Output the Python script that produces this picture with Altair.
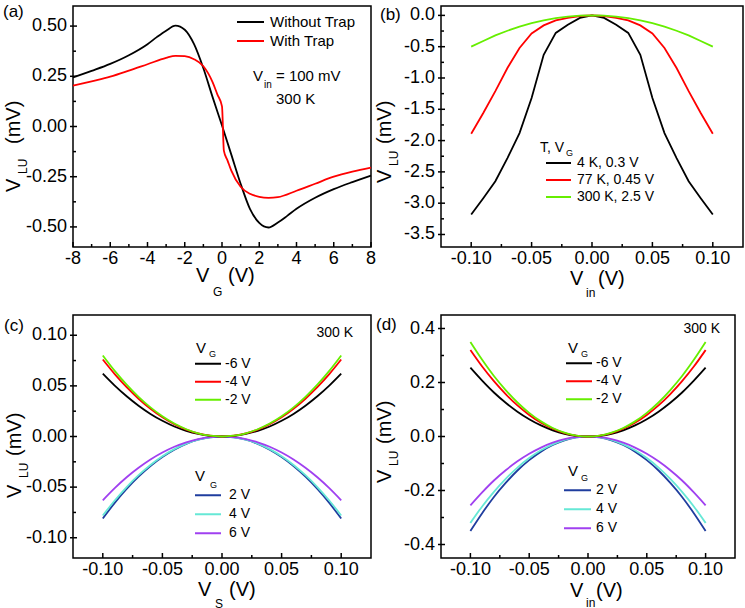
import altair as alt
import pandas as pd

FONT = "Liberation Sans"

# ---------------- data: panel (a) ----------------
a_vg_without = [-8, -7, -6, -5, -4, -3.5, -3, -2.5, -2, -1.5, -1, -0.5, 0, 0.5, 1, 1.5, 2, 2.5, 3, 3.5, 4, 5, 6, 7, 8]
a_without = [0.244, 0.277, 0.312, 0.355, 0.41, 0.445, 0.477, 0.502, 0.482, 0.41, 0.29, 0.145, 0.005, -0.14, -0.285,
             -0.41, -0.48, -0.503, -0.478, -0.445, -0.41, -0.355, -0.312, -0.277, -0.245]
a_vg_with = [-8, -7, -6, -5, -4, -3, -2.5, -2, -1.5, -1, -0.5, -0.25, 0, 0.1, 0.3, 0.5, 1, 1.5, 2, 2.5, 3, 4, 5, 6, 7, 8]
a_with = [0.203, 0.225, 0.248, 0.278, 0.31, 0.342, 0.352, 0.35, 0.335, 0.30, 0.22, 0.16, 0.1, -0.12, -0.17, -0.22,
          -0.30, -0.335, -0.35, -0.355, -0.352, -0.32, -0.285, -0.25, -0.225, -0.205]
a_names = ["Without Trap", "With Trap"]

# ---------------- data: panel (b) ----------------
b_vin = [-0.10, -0.09, -0.08, -0.07, -0.06, -0.05, -0.04, -0.03, -0.02, -0.01, 0.0,
         0.01, 0.02, 0.03, 0.04, 0.05, 0.06, 0.07, 0.08, 0.09, 0.10]
b_4k = [-3.18, -2.92, -2.65, -2.28, -1.88, -1.32, -0.63, -0.28, -0.15, -0.04, 0.0,
        -0.04, -0.15, -0.28, -0.63, -1.32, -1.88, -2.28, -2.65, -2.92, -3.18]
b_77k = [-1.89, -1.56, -1.21, -0.84, -0.52, -0.29, -0.16, -0.08, -0.04, -0.01, 0.0,
         -0.01, -0.04, -0.08, -0.16, -0.29, -0.52, -0.84, -1.21, -1.56, -1.89]
b_300k = [-0.50, -0.41, -0.32, -0.245, -0.18, -0.125, -0.08, -0.045, -0.02, -0.005, 0.0,
          -0.005, -0.02, -0.045, -0.08, -0.125, -0.18, -0.245, -0.32, -0.41, -0.50]
b_names = ["4 K, 0.3 V", "77 K, 0.45 V", "300 K, 2.5 V"]

# ---------------- data: panel (c) ----------------
c_vs = [-0.10, -0.09, -0.08, -0.07, -0.06, -0.05, -0.04, -0.03, -0.02, -0.01, 0.0,
        0.01, 0.02, 0.03, 0.04, 0.05, 0.06, 0.07, 0.08, 0.09, 0.10]
c_m6 = [0.062, 0.0502, 0.0397, 0.0304, 0.0223, 0.0155, 0.0099, 0.0056, 0.0025, 0.0006, 0.0,
        0.0006, 0.0025, 0.0056, 0.0099, 0.0155, 0.0223, 0.0304, 0.0397, 0.0502, 0.062]
c_m4 = [0.076, 0.0616, 0.0487, 0.0373, 0.0274, 0.019, 0.0122, 0.0068, 0.003, 0.0008, 0.0,
        0.0008, 0.003, 0.0068, 0.0122, 0.019, 0.0274, 0.0373, 0.0487, 0.0616, 0.076]
c_m2 = [0.080, 0.0648, 0.0512, 0.0392, 0.0288, 0.020, 0.0128, 0.0072, 0.0032, 0.0008, 0.0,
        0.0008, 0.0032, 0.0072, 0.0128, 0.020, 0.0288, 0.0392, 0.0512, 0.0648, 0.080]
c_p2 = [-0.081, -0.0656, -0.0518, -0.0397, -0.0292, -0.0203, -0.013, -0.0073, -0.0032, -0.0008, 0.0,
        -0.0008, -0.0032, -0.0073, -0.013, -0.0203, -0.0292, -0.0397, -0.0518, -0.0656, -0.081]
c_p4 = [-0.078, -0.0632, -0.0499, -0.0382, -0.0281, -0.0195, -0.0125, -0.007, -0.0031, -0.0008, 0.0,
        -0.0008, -0.0031, -0.007, -0.0125, -0.0195, -0.0281, -0.0382, -0.0499, -0.0632, -0.078]
c_p6 = [-0.063, -0.051, -0.0403, -0.0309, -0.0227, -0.0158, -0.0101, -0.0057, -0.0025, -0.0006, 0.0,
        -0.0006, -0.0025, -0.0057, -0.0101, -0.0158, -0.0227, -0.0309, -0.0403, -0.051, -0.063]

# ---------------- data: panel (d) ----------------
d_vin = [-0.10, -0.09, -0.08, -0.07, -0.06, -0.05, -0.04, -0.03, -0.02, -0.01, 0.0,
         0.01, 0.02, 0.03, 0.04, 0.05, 0.06, 0.07, 0.08, 0.09, 0.10]
d_m6 = [0.255, 0.207, 0.163, 0.125, 0.092, 0.064, 0.041, 0.023, 0.010, 0.0026, 0.0,
        0.0026, 0.010, 0.023, 0.041, 0.064, 0.092, 0.125, 0.163, 0.207, 0.255]
d_m4 = [0.32, 0.259, 0.205, 0.157, 0.115, 0.08, 0.051, 0.029, 0.0128, 0.0032, 0.0,
        0.0032, 0.0128, 0.029, 0.051, 0.08, 0.115, 0.157, 0.205, 0.259, 0.32]
d_m2 = [0.35, 0.284, 0.224, 0.172, 0.126, 0.0875, 0.056, 0.0315, 0.014, 0.0035, 0.0,
        0.0035, 0.014, 0.0315, 0.056, 0.0875, 0.126, 0.172, 0.224, 0.284, 0.35]
d_p2 = [-0.35, -0.284, -0.224, -0.172, -0.126, -0.0875, -0.056, -0.0315, -0.014, -0.0035, 0.0,
        -0.0035, -0.014, -0.0315, -0.056, -0.0875, -0.126, -0.172, -0.224, -0.284, -0.35]
d_p4 = [-0.32, -0.259, -0.205, -0.157, -0.115, -0.08, -0.051, -0.029, -0.0128, -0.0032, 0.0,
        -0.0032, -0.0128, -0.029, -0.051, -0.08, -0.115, -0.157, -0.205, -0.259, -0.32]
d_p6 = [-0.255, -0.207, -0.163, -0.125, -0.092, -0.064, -0.041, -0.023, -0.010, -0.0026, 0.0,
        -0.0026, -0.010, -0.023, -0.041, -0.064, -0.092, -0.125, -0.163, -0.207, -0.255]

neg_names = ["-6 V", "-4 V", "-2 V"]
pos_names = ["2 V", "4 V", "6 V"]
neg_colors = ["#000000", "#ff0000", "#66ee00"]
pos_colors = ["#1f3d9e", "#66e8d6", "#a040f0"]

# ---------------- tick values and tick labels ----------------
a_xticks = [-8, -6, -4, -2, 0, 2, 4, 6, 8]
a_xlabels = ["-8", "-6", "-4", "-2", "0", "2", "4", "6", "8"]
a_xminor = [-7, -5, -3, -1, 1, 3, 5, 7]
a_yticks = [-0.5, -0.25, 0, 0.25, 0.5]
a_ylabels = ["-0.50", "-0.25", "0.00", "0.25", "0.50"]
a_yminor = [-0.375, -0.125, 0.125, 0.375]
v_xticks = [-0.1, -0.05, 0, 0.05, 0.1]
v_xlabels = ["-0.10", "-0.05", "0.00", "0.05", "0.10"]
v_xminor = [-0.075, -0.025, 0.025, 0.075]
b_yticks = [0, -0.5, -1, -1.5, -2, -2.5, -3, -3.5]
b_ylabels = ["0.0", "-0.5", "-1.0", "-1.5", "-2.0", "-2.5", "-3.0", "-3.5"]
b_yminor = [-0.25, -0.75, -1.25, -1.75, -2.25, -2.75, -3.25]
c_yticks = [-0.1, -0.05, 0, 0.05, 0.1]
c_ylabels = ["-0.10", "-0.05", "0.00", "0.05", "0.10"]
c_yminor = [-0.075, -0.025, 0.025, 0.075]
d_yticks = [-0.4, -0.2, 0, 0.2, 0.4]
d_ylabels = ["-0.4", "-0.2", "0.0", "0.2", "0.4"]
d_yminor = [-0.3, -0.1, 0.1, 0.3]


def label_layers(xs, ys, xmaj, xlab, ymaj, ylab, h):
    """Tick labels drawn through the panel's own scales."""
    return [
        alt.Chart(pd.DataFrame({"lx": xmaj, "t": xlab})).mark_text(
            font=FONT, fontSize=18, align="center", baseline="top", color="black").encode(
            x=alt.X("lx:Q", scale=xs, axis=None), y=alt.value(h + 3), text="t:N"),
        alt.Chart(pd.DataFrame({"ly": ymaj, "t": ylab})).mark_text(
            font=FONT, fontSize=18, align="right", baseline="middle", color="black").encode(
            y=alt.Y("ly:Q", scale=ys, axis=None), x=alt.value(-6), text="t:N"),
    ]


def tick_layers(xs, ys, xdom, ydom, xmaj, xmin, ymaj, ymin, w, h):
    """Inward tick marks, positioned through the panel's own scales (data units)."""
    out = []
    dy = (ydom[1] - ydom[0]) / h      # data units per pixel, vertical
    dx = (xdom[1] - xdom[0]) / w      # data units per pixel, horizontal
    for vals, length in ((xmaj, 5), (xmin, 3)):
        df = pd.DataFrame({"tx": vals, "ya": [ydom[0]] * len(vals),
                           "yb": [ydom[0] + length * dy] * len(vals)})
        out.append(alt.Chart(df).mark_rule(color="#000000", strokeWidth=1.5, opacity=1).encode(
            x=alt.X("tx:Q", scale=xs, axis=None),
            y=alt.Y("ya:Q", scale=ys, axis=None), y2="yb:Q"))
    for vals, a, b in ((ymaj, -3, 4), (ymin, 0, 3)):
        df = pd.DataFrame({"ty": vals, "xa": [xdom[0] + a * dx] * len(vals),
                           "xb": [xdom[0] + b * dx] * len(vals)})
        out.append(alt.Chart(df).mark_rule(color="#000000", strokeWidth=1.5, opacity=1).encode(
            y=alt.Y("ty:Q", scale=ys, axis=None),
            x=alt.X("xa:Q", scale=xs, axis=None), x2="xb:Q"))
    return out


def leg(x, y, length, step, off, size):
    return alt.Legend(orient="none", legendX=x, legendY=y, title=None, symbolType="stroke",
                      symbolSize=length * length, symbolStrokeWidth=2, labelFont=FONT,
                      labelFontSize=size, labelColor="black", labelOffset=off,
                      clipHeight=step, rowPadding=0, padding=0, direction="vertical")


def txt(s, x, y, size, angle=0, align="left"):
    return alt.Chart(pd.DataFrame({"t": [s]})).mark_text(
        font=FONT, fontSize=size, align=align, baseline="middle", angle=angle, color="black"
    ).encode(x=alt.value(x), y=alt.value(y), text="t:N")


def ytitle(x, yv, ysub, ymv):
    return [txt("V", x, yv, 20, 270), txt("LU", x + 9, ysub, 12, 270), txt("(mV)", x, ymv, 20, 270)]


def long_df(xs_list, ys_list, names):
    parts = []
    for xs, ys, n in zip(xs_list, ys_list, names):
        parts.append(pd.DataFrame({"x": xs, "y": ys, "s": n}))
    return pd.concat(parts, ignore_index=True)


def scl(dom):
    return alt.Scale(domain=dom, nice=False, zero=False)


# ---------------- panel (a) ----------------
W_A, H_A = 298, 241
XD_A, YD_A = [-8, 8], [-0.6, 0.6]
df_a = long_df([a_vg_without, a_vg_with], [a_without, a_with], a_names)
xs_a, ys_a = scl(XD_A), scl(YD_A)
lines_a = alt.Chart(df_a).mark_line(strokeWidth=1.8, interpolate="monotone").encode(
    x=alt.X("x:Q", scale=xs_a, axis=None),
    y=alt.Y("y:Q", scale=ys_a, axis=None),
    color=alt.Color("s:N", scale=alt.Scale(domain=a_names, range=["#000000", "#ff0000"]),
                    legend=leg(163, 6.5, 27, 19, 5, 15)),
)
texts_a = [
    txt("(a)", -70, 6, 17),
    txt("V", 180, 70, 15), txt("in", 191, 79, 10), txt("= 100 mV", 203, 70, 15),
    txt("300 K", 203, 93, 15),
    txt("V", 123, 270, 20), txt("G", 140, 286, 12), txt("(V)", 155, 270, 20),
] + ytitle(-59, 186, 168, 138)
panel_a = alt.layer(
    lines_a,
    *tick_layers(xs_a, ys_a, XD_A, YD_A, a_xticks, a_xminor, a_yticks, a_yminor, W_A, H_A),
    *label_layers(xs_a, ys_a, a_xticks, a_xlabels, a_yticks, a_ylabels, H_A),
    *texts_a,
).properties(width=W_A, height=H_A)

# ---------------- panel (b) ----------------
W_B, H_B = 302, 241
XD_B, YD_B = [-0.125, 0.125], [-3.7, 0.15]
df_b = long_df([b_vin, b_vin, b_vin], [b_4k, b_77k, b_300k], b_names)
xs_b, ys_b = scl(XD_B), scl(YD_B)
lines_b = alt.Chart(df_b).mark_line(strokeWidth=1.8).encode(
    x=alt.X("x:Q", scale=xs_b, axis=None),
    y=alt.Y("y:Q", scale=ys_b, axis=None),
    color=alt.Color("s:N", scale=alt.Scale(domain=b_names, range=["#000000", "#ff0000", "#66ee00"]),
                    legend=leg(104, 148.75, 25, 16.5, 5, 14)),
)
texts_b = [
    txt("(b)", -61, 9, 17),
    txt("T, V", 99, 142, 14), txt("G", 125, 147, 9),
    txt("V", 129, 273, 20), txt("in", 145, 287, 12), txt("(V)", 157, 273, 20),
] + ytitle(-56, 177, 160, 138)
panel_b = alt.layer(
    lines_b,
    *tick_layers(xs_b, ys_b, XD_B, YD_B, v_xticks, v_xminor, b_yticks, b_yminor, W_B, H_B),
    *label_layers(xs_b, ys_b, v_xticks, v_xlabels, b_yticks, b_ylabels, H_B),
    *texts_b,
).properties(width=W_B, height=H_B)


# ---------------- panels (c), (d) ----------------
def vg_panel(xv, neg, pos, ydom, yticks, ylabels, yminor, w, h, up_leg, lo_leg, texts):
    xdom = [-0.125, 0.125]
    df_neg = long_df([xv] * 3, neg, neg_names)
    df_pos = long_df([xv] * 3, pos, pos_names)
    xs, ys = scl(xdom), scl(ydom)
    l_neg = alt.Chart(df_neg).mark_line(strokeWidth=1.8, interpolate="monotone").encode(
        x=alt.X("x:Q", scale=xs, axis=None),
        y=alt.Y("y:Q", scale=ys, axis=None),
        color=alt.Color("s:N", scale=alt.Scale(domain=neg_names, range=neg_colors), legend=up_leg),
    )
    l_pos = alt.Chart(df_pos).mark_line(strokeWidth=1.8, interpolate="monotone").encode(
        x=alt.X("x:Q", scale=xs, axis=None),
        y=alt.Y("y:Q", scale=ys, axis=None),
        color=alt.Color("s:N", scale=alt.Scale(domain=pos_names, range=pos_colors), legend=lo_leg),
    )
    return alt.layer(
        l_pos, l_neg,
        *tick_layers(xs, ys, xdom, ydom, v_xticks, v_xminor, yticks, yminor, w, h),
        *label_layers(xs, ys, v_xticks, v_xlabels, yticks, ylabels, h),
        *texts,
    ).resolve_scale(color="independent").properties(width=w, height=h)


texts_c = [
    txt("(c)", -69, 11, 17),
    txt("300 K", 280, 18, 14, align="right"),
    txt("V", 123, 33, 15), txt("G", 136, 39, 9),
    txt("V", 122, 161, 15), txt("G", 137, 170, 9),
    txt("V", 125, 275, 20), txt("S", 142, 289, 12), txt("(V)", 156, 275, 20),
] + ytitle(-58, 183, 163, 141)
panel_c = vg_panel(c_vs, [c_m6, c_m4, c_m2], [c_p2, c_p4, c_p6], [-0.12, 0.12], c_yticks, c_ylabels, c_yminor,
                   298, 243, leg(121, 40, 26, 17.3, 3, 14), leg(121, 171.2, 26, 18.2, 7, 14), texts_c)

texts_d = [
    txt("(d)", -65, 10, 17),
    txt("300 K", 279, 14, 14, align="right"),
    txt("V", 127, 33, 15), txt("G", 140, 39, 9),
    txt("V", 127, 156, 15), txt("G", 140, 163, 9),
    txt("V", 129, 276, 20), txt("in", 145, 288, 12), txt("(V)", 155, 276, 20),
] + ytitle(-56, 168, 151, 129)
panel_d = vg_panel(d_vin, [d_m6, d_m4, d_m2], [d_p2, d_p4, d_p6], [-0.45, 0.45], d_yticks, d_ylabels, d_yminor,
                   294, 243, leg(124, 39.5, 26, 17.7, 3, 14), leg(122, 166.2, 27, 18.3, 4, 14), texts_d)

chart = alt.concat(
    panel_a, panel_b, panel_c, panel_d,
    columns=2, spacing={"row": 68, "column": 70}, bounds="flush",
).resolve_scale(color="independent").properties(
    padding={"left": 2, "top": 2, "right": 0, "bottom": 0}, background="white"
).configure_view(
    stroke="black", strokeWidth=1.5
)

chart.save("out.html", embed_options={"renderer": "svg", "actions": False})
